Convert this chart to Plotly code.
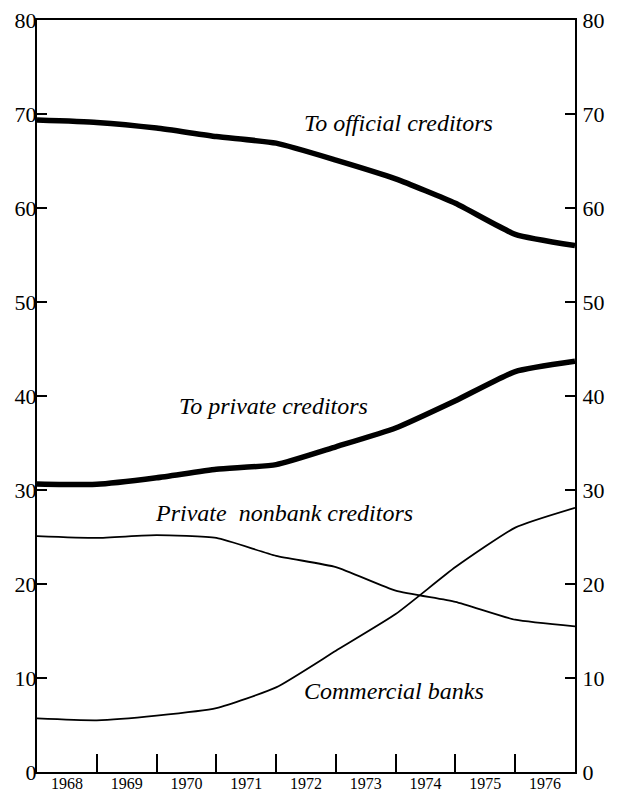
import plotly.graph_objects as go

# Year boundaries (data points plotted at boundaries between year intervals)
x_points = [1968, 1969, 1970, 1971, 1972, 1973, 1974, 1975, 1976, 1977]
year_labels = ["1968", "1969", "1970", "1971", "1972", "1973", "1974", "1975", "1976"]
label_pos = [1968.5, 1969.5, 1970.5, 1971.5, 1972.5, 1973.5, 1974.5, 1975.5, 1976.5]

official = [69.35, 69.1, 68.5, 67.6, 66.9, 65.1, 63.1, 60.5, 57.2, 56.0]
private = [30.65, 30.6, 31.3, 32.2, 32.7, 34.6, 36.6, 39.5, 42.6, 43.7]
nonbank = [25.1, 24.9, 25.2, 24.9, 23.0, 21.8, 19.3, 18.1, 16.2, 15.5]
commercial = [5.7, 5.5, 6.0, 6.8, 9.0, 12.9, 16.8, 21.8, 26.0, 28.1]

y_ticks = [0, 10, 20, 30, 40, 50, 60, 70, 80]

FONT = "Liberation Serif"

fig = go.Figure()
line_shape = dict(shape="spline", smoothing=0.5)
fig.add_trace(go.Scatter(x=x_points, y=official, mode="lines",
                         line=dict(color="black", width=5.5, **line_shape)))
fig.add_trace(go.Scatter(x=x_points, y=private, mode="lines",
                         line=dict(color="black", width=5.5, **line_shape)))
fig.add_trace(go.Scatter(x=x_points, y=nonbank, mode="lines", yaxis="y2",
                         line=dict(color="black", width=1.8, **line_shape)))
fig.add_trace(go.Scatter(x=x_points, y=commercial, mode="lines", xaxis="x2",
                         line=dict(color="black", width=1.8, **line_shape)))

annots = [
    ("To official creditors", 1974.05, 69.0),
    ("To private creditors", 1971.95, 38.9),
    ("Private&nbsp;&nbsp;nonbank creditors", 1972.13, 27.6),
    ("Commercial banks", 1973.98, 8.6),
]
for txt, ax, ay in annots:
    fig.add_annotation(x=ax, y=ay, text=f"<i>{txt}</i>", showarrow=False,
                       font=dict(family=FONT, size=24, color="black"),
                       xanchor="center", yanchor="middle")

fig.update_layout(
    width=627, height=794,
    margin=dict(l=37, r=52, t=20, b=22),
    paper_bgcolor="white", plot_bgcolor="white",
    showlegend=False,
    font=dict(family=FONT, color="black"),
    xaxis=dict(range=[1968, 1977], tickvals=x_points, ticks="inside", ticklen=18,
               tickwidth=1.5, tickcolor="black", showticklabels=False,
               showline=True, linecolor="black", linewidth=2, mirror=True,
               showgrid=False, zeroline=False, automargin=False, fixedrange=True),
    xaxis2=dict(range=[1968, 1977], overlaying="x", side="bottom",
                tickvals=label_pos, ticktext=year_labels, ticks="",
                ticklabelstandoff=0,
                tickfont=dict(family=FONT, size=16, color="black"),
                showline=False, showgrid=False, zeroline=False, automargin=False),
    yaxis=dict(range=[0, 80], tickvals=y_ticks, ticks="inside", ticklen=10,
               tickwidth=1.5, tickcolor="black", ticklabelstandoff=-6,
               tickfont=dict(family=FONT, size=22, color="black"),
               showline=True, linecolor="black", linewidth=2,
               showgrid=False, zeroline=False, automargin=False),
    yaxis2=dict(range=[0, 80], overlaying="y", side="right", tickvals=y_ticks,
                ticks="inside", ticklen=10, tickwidth=1.5, tickcolor="black",
                ticklabelstandoff=1,
                tickfont=dict(family=FONT, size=22, color="black"),
                showline=True, linecolor="black", linewidth=2,
                showgrid=False, zeroline=False, automargin=False),
)

fig.write_html("out.html", config={"displayModeBar": False},
               post_script="document.body.style.margin='0';")
